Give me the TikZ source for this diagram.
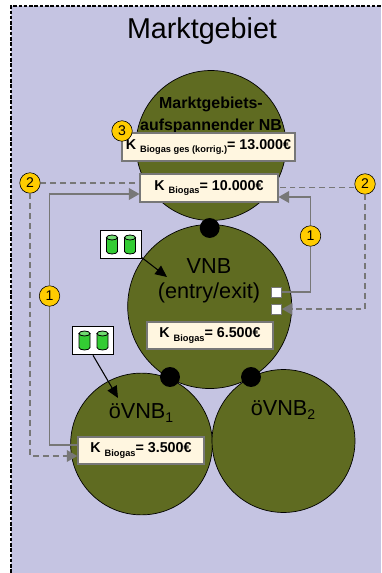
\documentclass[tikz,border=0pt]{standalone}
\usepackage{fontspec}
\setmainfont{Liberation Sans}
\usetikzlibrary{arrows.meta}
\definecolor{areablue}{HTML}{C5C4E2}
\definecolor{netolive}{HTML}{5F6B21}
\definecolor{boxcream}{HTML}{FFF6E0}
\definecolor{badgeyellow}{HTML}{FFCC00}
\definecolor{tankgreen}{HTML}{33CC33}
\definecolor{linegray}{HTML}{777777}
\newcommand{\kbiogas}[2]{K \raisebox{-2.6pt}{\fontsize{7.9}{9}\selectfont #1}= #2€}
\newcommand{\netsub}[2]{#1\raisebox{-3pt}{\fontsize{12}{14}\selectfont #2}}
\tikzset{
    net/.style={circle, draw=black, fill=netolive, inner sep=0pt, line width=0.6pt},
    joint/.style={circle, fill=black, inner sep=0pt, minimum size=17pt},
    costbox/.style={draw=linegray, fill=boxcream, line width=1.2pt, inner sep=0pt, font=\fontsize{12.2}{14}\selectfont\bfseries},
    badge/.style={circle, draw=black, fill=badgeyellow, inner sep=0pt, minimum size=17.5pt, line width=0.5pt, font=\fontsize{12}{14}\selectfont},
    port/.style={draw=linegray, fill=white, line width=0.8pt, inner sep=0pt, minimum size=8.5pt},
    storage/.style={draw=black, fill=white, line width=0.8pt, inner sep=0pt, minimum width=35pt, minimum height=24.5pt},
    tank/.pic={
        \draw[black, fill=tankgreen, line width=0.7pt] (-5.5,-7) -- (-5.5,7) arc[start angle=180, end angle=360, x radius=5.5, y radius=-2.5] -- (5.5,-7) -- cycle;
        \draw[black, fill=tankgreen!70, line width=0.7pt] (0,-7) ellipse[x radius=5.5, y radius=2.5];
    },
    flow/.style={color=linegray, line width=1.2pt},
    flowdash/.style={flow, dash pattern=on 5pt off 3.4pt},
    flowhead/.style={-{Triangle[length=9pt,width=10pt,fill=linegray]}},
    feedhead/.style={-{Triangle[length=10pt,width=9pt,fill=black]}},
    title/.style={font=\fontsize{#1}{#1}\selectfont, align=center, inner sep=0pt}
}
\begin{document}
\begin{tikzpicture}[x=0.03cm, y=-0.03cm]
    \useasboundingbox (0,0) rectangle (381,573);
    \fill[areablue] (11,6) rectangle (381,573);
    \draw[black, line width=0.9pt, dash pattern=on 3pt off 1.5pt] (11,573) -- (11,6) -- (381,6);

    % networks
    \node[net, minimum size=128pt] at (211,145.5) (mgnb) {};
    \node[net, minimum size=140pt] at (209.7,306.5) (vnb) {};
    \node[net, minimum size=121pt] at (141.5,444) (ovnba) {};
    \node[net, minimum size=122pt] at (283.5,441) (ovnbb) {};
    \node[joint] at (209.7,228) (jointtop) {};
    \node[joint] at (170,377) (jointa) {};
    \node[joint] at (251,377) (jointb) {};

    % texts
    \node[title=24.5] at (202,31) (markt) {Marktgebiet};
    \node[title=13.6, font=\fontsize{13.6}{17}\selectfont\bfseries] at (211,115.5) (mgtext) {Marktgebiets-\\[1.5pt]aufspannender NB};
    \node[title=18.5] at (209,266) (vnbtext) {VNB};
    \node[title=18.5] at (209,293) (entrytext) {(entry/exit)};
    \node[title=18.5] at (141,413) (ovnbatext) {\netsub{öVNB}{1}};
    \node[title=18.5] at (283,410) (ovnbbtext) {\netsub{öVNB}{2}};

    % cost boxes
    \node[costbox, minimum width=147.5pt, minimum height=24pt] at (208.5,147) (kges) {\kbiogas{Biogas ges (korrig.)}{13.000}};
    \node[costbox, minimum width=117.5pt, minimum height=24pt] at (209,188) (ktop) {\kbiogas{Biogas}{10.000}};
    \node[costbox, minimum width=107.5pt, minimum height=23pt] at (210,335.5) (kvnb) {\kbiogas{Biogas}{6.500}};
    \node[costbox, minimum width=107.5pt, minimum height=23pt] at (141,450.5) (kovnb) {\kbiogas{Biogas}{3.500}};

    % ports and badges
    \node[port] at (276.5,292) (portup) {};
    \node[port] at (276.5,309) (portin) {};
    \node[badge] at (122,131) (badgec) {3};
    \node[badge] at (30,183) (badgebl) {2};
    \node[badge] at (365,184) (badgebr) {2};
    \node[badge] at (310.5,236) (badgear) {1};
    \node[badge] at (49.5,296) (badgeal) {1};

    % connectors
    \draw[flow] (kovnb.west |- 0,445) -| (badgeal);
    \draw[flow, flowhead] (badgeal) |- (ktop.west |- 0,194);
    \draw[flow] (portup) -| (badgear);
    \draw[flow, flowhead] (badgear) |- (ktop.east |- 0,197);
    \draw[flowdash] (badgebl) -- (ktop.west |- badgebl);
    \draw[flowdash, flowhead] (badgebl) |- (kovnb.west |- 0,456);
    \draw[flowdash] (badgebr.west |- 0,187.7) -- (ktop.east |- 0,187.7);
    \draw[flowdash, flowhead] (badgebr) |- (portin);

    % gas storages
    \node[storage] at (120.5,244.5) (storea) {};
    \pic at (112,244.5) {tank};
    \pic at (130,244.5) {tank};
    \node[storage] at (93,340.5) (storeb) {};
    \pic at (84.5,340.5) {tank};
    \pic at (102.5,340.5) {tank};
    \coordinate (feeda) at (167,277);
    \coordinate (feedb) at (118,398);
    \draw[black, line width=0.9pt, feedhead] (storea.south east) ++(0,-2) -- (feeda);
    \draw[black, line width=0.9pt, feedhead] (storeb.south) -- (feedb);
\end{tikzpicture}
\end{document}
